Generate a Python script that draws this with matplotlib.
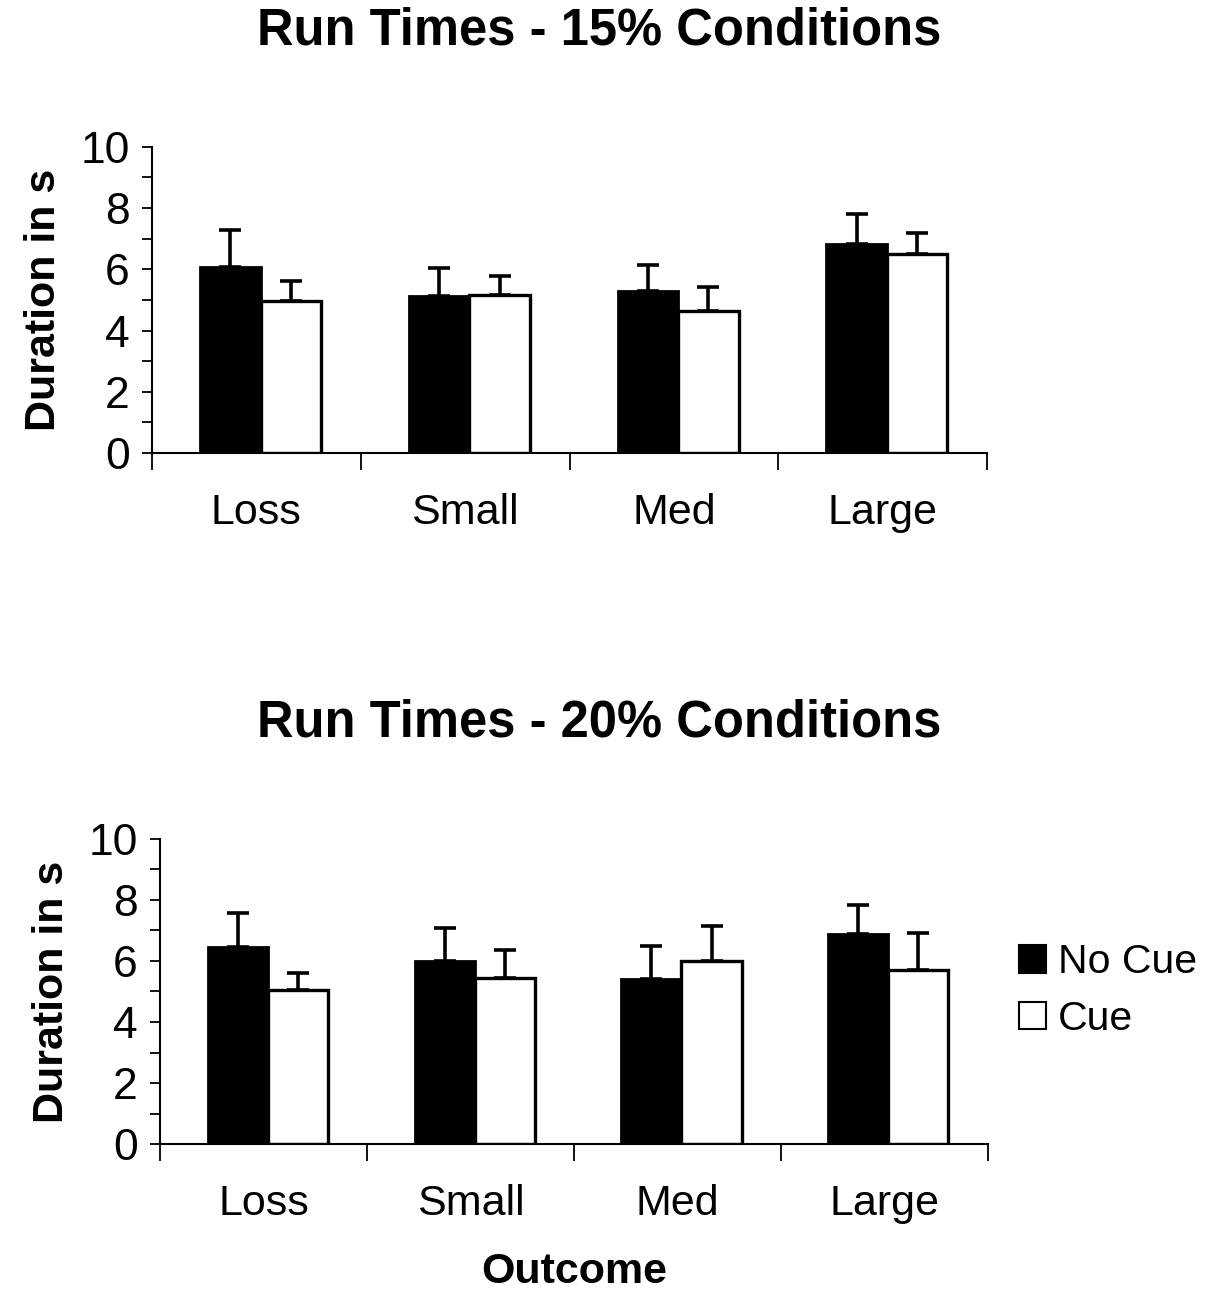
import numpy as np
import matplotlib.pyplot as plt
from matplotlib.patches import Patch

plt.rcParams['font.family'] = ['Liberation Sans', 'DejaVu Sans']

outcomes = ["Loss", "Small", "Med", "Large"]

# 15% conditions: mean run time and SEM (upper bar only)
no_cue_15 = [6.06, 5.14, 5.30, 6.84]
no_cue_15_err = [1.22, 0.89, 0.85, 0.96]
cue_15 = [4.95, 5.17, 4.64, 6.49]
cue_15_err = [0.68, 0.62, 0.79, 0.70]

# 20% conditions
no_cue_20 = [6.46, 6.01, 5.41, 6.89]
no_cue_20_err = [1.11, 1.06, 1.08, 0.94]
cue_20 = [5.05, 5.43, 6.01, 5.71]
cue_20_err = [0.55, 0.93, 1.14, 1.20]

panels = [
    {"title": "Run Times - 15% Conditions", "rect": [0.1254, 0.6497, 0.689, 0.2367],
     "nc": no_cue_15, "nc_err": no_cue_15_err, "c": cue_15, "c_err": cue_15_err, "title_y": 0.976},
    {"title": "Run Times - 20% Conditions", "rect": [0.132, 0.1152, 0.683, 0.236],
     "nc": no_cue_20, "nc_err": no_cue_20_err, "c": cue_20, "c_err": cue_20_err, "title_y": 0.441},
]

fig = plt.figure(figsize=(12.12, 12.93), dpi=100)
x = np.arange(len(outcomes))
w = 0.29
shift = 0.02

for i, p in enumerate(panels):
    ax = fig.add_axes(p["rect"])
    err_kw = dict(ecolor="black", elinewidth=2.6, capsize=8, capthick=2.6)
    ax.bar(x + shift - w / 2, p["nc"], w, color="black", edgecolor="black", linewidth=2,
           yerr=[np.zeros(4), p["nc_err"]], error_kw=err_kw, zorder=2)
    ax.bar(x + shift + w / 2, p["c"], w, color="white", edgecolor="black", linewidth=2.4,
           yerr=[np.zeros(4), p["c_err"]], error_kw=err_kw, zorder=2)

    ax.set_xlim(-0.5, 3.5)
    ax.set_ylim(0, 10)
    ax.set_yticks(np.arange(0, 11, 2))
    ax.set_yticks(np.arange(0, 11, 1), minor=True)
    ax.tick_params(axis="y", which="both", direction="out", length=7, width=1.3,
                   labelsize=32, pad=9)

    # category boundaries get the ticks, centres get the labels
    ax.set_xticks(np.arange(-0.5, 4.0, 1.0))
    ax.set_xticklabels([])
    ax.set_xticks(x, minor=True)
    ax.set_xticklabels(outcomes, minor=True)
    ax.tick_params(axis="x", which="major", direction="out", length=12, width=1.3)
    ax.tick_params(axis="x", which="minor", length=0, labelsize=31, pad=29)

    for side in ["top", "right"]:
        ax.spines[side].set_visible(False)
    for side in ["left", "bottom"]:
        ax.spines[side].set_linewidth(1.5)

    ax.set_ylabel("Duration in s", fontsize=31, fontweight="bold", labelpad=12)
    fig.text(0.494, p["title_y"], p["title"], ha="center", va="center",
             fontsize=36.5, fontweight="bold")

    if i == 1:
        ax.set_xlabel("Outcome", fontsize=31, fontweight="bold", labelpad=20)
        handles = [Patch(facecolor="black", edgecolor="black", linewidth=1.5, label="No Cue"),
                   Patch(facecolor="white", edgecolor="black", linewidth=1.5, label="Cue")]
        fig.legend(handles=handles, loc="center left", bbox_to_anchor=(0.824, 0.234),
                   frameon=False, fontsize=29.5, handlelength=0.65, handleheight=0.65,
                   handletextpad=0.3, labelspacing=0.45, borderpad=0)

fig.savefig("out.png", dpi=100)
